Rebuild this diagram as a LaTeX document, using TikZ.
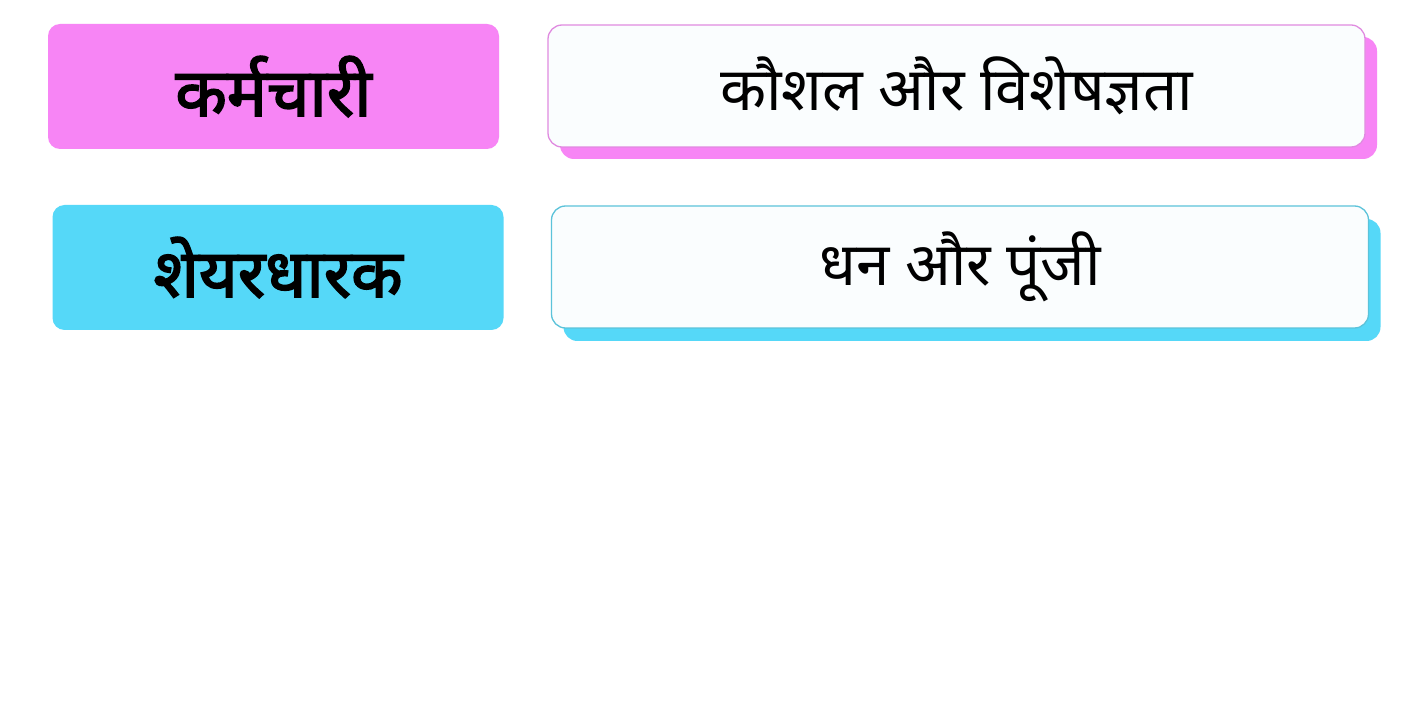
\documentclass[tikz,border=0pt]{standalone}
\usepackage{fontspec}
\newfontfamily\deva[Script=Devanagari]{Noto Sans}
\newfontfamily\devab[Script=Devanagari,FakeBold=2.5]{Noto Sans}
\usetikzlibrary{shadows}
\definecolor{pinkc}{HTML}{F785F5}
\definecolor{cyanc}{HTML}{55D8F8}
\definecolor{pinkline}{HTML}{E08BE0}
\definecolor{cyanline}{HTML}{5CC3DA}
\definecolor{paper}{HTML}{FAFDFE}
\tikzset{
  leftbox/.style={rounded corners=12pt, minimum width=451pt, minimum height=125pt, inner sep=0pt, font=\devab\fontsize{67}{75}\selectfont},
  rightbox/.style={rounded corners=14pt, minimum width=817pt, minimum height=122pt, inner sep=0pt, fill=paper, line width=1.3pt, font=\deva\fontsize{60}{70}\selectfont},
}
\begin{document}
\begin{tikzpicture}[x=1pt,y=-1pt]
\useasboundingbox[fill=white] (0,0) rectangle (1422,727);
\node[leftbox, fill=pinkc] (l1) at (273.5,86.5) {कर्मचारी};
\node[leftbox, fill=cyanc] (l2) at (278,267.5) {शेयरधारक};
\node[rightbox, draw=pinkline, drop shadow={shadow xshift=12pt, shadow yshift=-12pt, fill=pinkc, opacity=1}] (r1) at (956.5,86) {कौशल और विशेषज्ञता};
\node[rightbox, draw=cyanline, drop shadow={shadow xshift=12pt, shadow yshift=-13pt, fill=cyanc, opacity=1}] (r2) at (960,267) {धन और पूंजी};
\end{tikzpicture}
\end{document}
